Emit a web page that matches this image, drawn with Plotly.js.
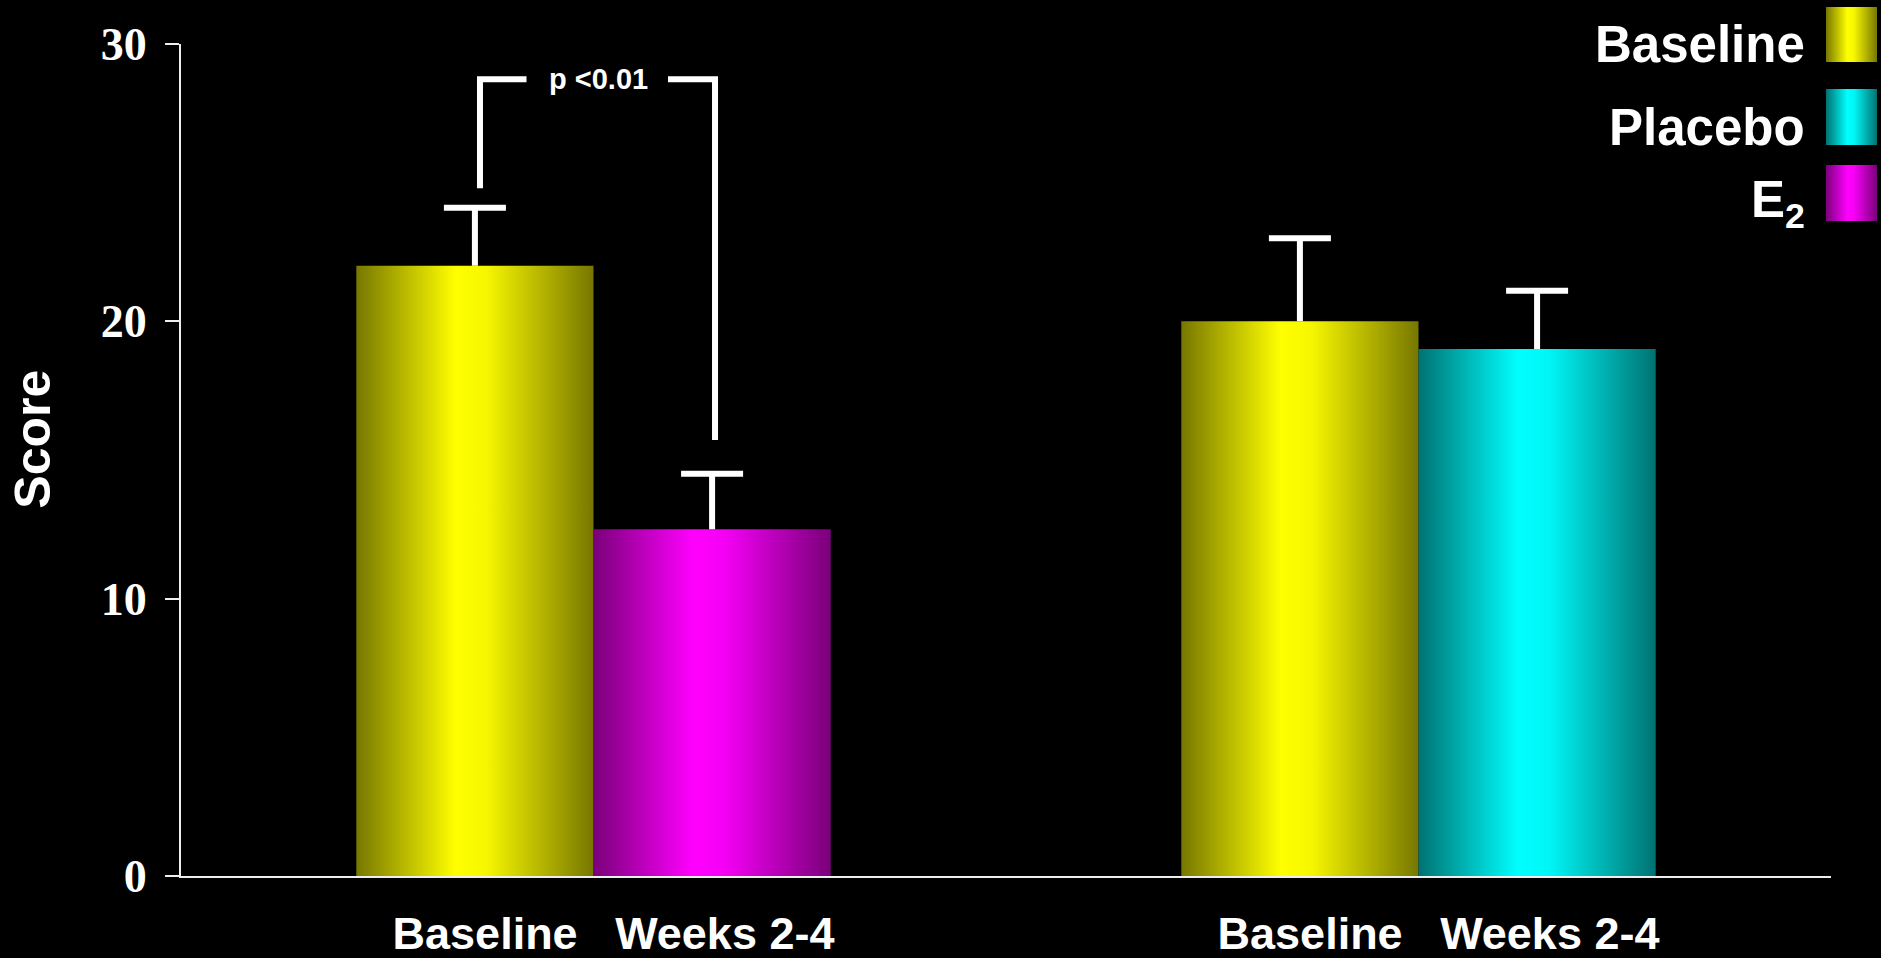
<!DOCTYPE html>
<html>
<head>
<meta charset="utf-8">
<script src="https://cdn.plot.ly/plotly-3.0.1.min.js"></script>
<style>
  html, body { margin: 0; padding: 0; background: #000; }
  #chart { width: 1881px; height: 958px; }
</style>
</head>
<body>
<svg width="0" height="0" style="position:absolute">
  <defs>
    <linearGradient id="gYellow" x1="0" y1="0" x2="1" y2="0">
      <stop offset="0" stop-color="#777700"/>
      <stop offset="0.42" stop-color="#ffff00"/>
      <stop offset="0.55" stop-color="#f6f600"/>
      <stop offset="1" stop-color="#777700"/>
    </linearGradient>
    <linearGradient id="gCyan" x1="0" y1="0" x2="1" y2="0">
      <stop offset="0" stop-color="#007272"/>
      <stop offset="0.42" stop-color="#00ffff"/>
      <stop offset="0.55" stop-color="#00f6f6"/>
      <stop offset="1" stop-color="#007272"/>
    </linearGradient>
    <linearGradient id="gMagenta" x1="0" y1="0" x2="1" y2="0">
      <stop offset="0" stop-color="#7a007a"/>
      <stop offset="0.42" stop-color="#ff00ff"/>
      <stop offset="0.55" stop-color="#f600f6"/>
      <stop offset="1" stop-color="#7a007a"/>
    </linearGradient>
  </defs>
</svg>
<div id="chart"></div>
<script>
// ---- data ----
const groupPositions = [0, 1];
const groupTickLabels = ['Baseline\u00a0\u00a0\u00a0Weeks 2-4', 'Baseline\u00a0\u00a0\u00a0Weeks 2-4'];
const baselineValues = [22, 20];
const baselineErrors = [2.1, 3.0];
const e2Positions = [0];
const e2Values = [12.5];
const e2Errors = [2.0];
const placeboPositions = [1];
const placeboValues = [19];
const placeboErrors = [2.1];
const yTickValues = [0, 10, 20, 30];
const yTickLabels = ['0', '10', '20', '30'];
const legendNames = ['Baseline', 'Placebo', 'E<sub>2</sub>'];
const pValueLabel = 'p <0.01';
const yAxisTitle = 'Score';

// ---- styles ----
const sans = 'Liberation Sans, Arial, sans-serif';
const serif = 'Liberation Serif, Times New Roman, serif';
const errStyle = (arr) => ({
  type: 'data', symmetric: false, array: arr, arrayminus: arr.map(() => 0),
  color: '#ffffff', thickness: 6, width: 31, visible: true
});

const traces = [
  { type: 'bar', name: 'Baseline', x: groupPositions, y: baselineValues,
    offsetgroup: 'a', marker: { color: '#ffff00', line: { width: 0 } },
    error_y: errStyle(baselineErrors), showlegend: false, hoverinfo: 'y' },
  { type: 'bar', name: 'E2', x: e2Positions, y: e2Values,
    offsetgroup: 'b', marker: { color: '#ff00ff', line: { width: 0 } },
    error_y: errStyle(e2Errors), showlegend: false, hoverinfo: 'y' },
  { type: 'bar', name: 'Placebo', x: placeboPositions, y: placeboValues,
    offsetgroup: 'b', marker: { color: '#00ffff', line: { width: 0 } },
    error_y: errStyle(placeboErrors), showlegend: false, hoverinfo: 'y' }
];

// custom legend (text on the left, swatch on the right)
const swatchColors = ['#ffff00', '#00ffff', '#ff00ff'];
const swatchY = [[0.97837, 1.04447], [0.87861, 0.94591], [0.78726, 0.85457]];
const legendTextY = [0.999, 0.900, 0.8085];

const shapes = [];
swatchY.forEach((yy, i) => {
  shapes.push({ type: 'rect', xref: 'paper', yref: 'paper',
    x0: 0.99697, x1: 1.02788, y0: yy[0], y1: yy[1],
    fillcolor: swatchColors[i], line: { width: 0 }, layer: 'above' });
});
// significance bracket
const bracketTop = 28.73;
shapes.push({ type: 'path', xref: 'x', yref: 'y', layer: 'above',
  path: `M -0.1376,24.8 L -0.1376,${bracketTop} L -0.0812,${bracketTop}`,
  line: { color: '#ffffff', width: 6 } });
shapes.push({ type: 'path', xref: 'x', yref: 'y', layer: 'above',
  path: `M 0.0903,${bracketTop} L 0.1473,${bracketTop} L 0.1473,15.72`,
  line: { color: '#ffffff', width: 6 } });

const annotations = [];
legendNames.forEach((n, i) => {
  annotations.push({ xref: 'paper', yref: 'paper', x: 0.9855, y: legendTextY[i],
    xanchor: 'right', yanchor: 'middle', text: n, showarrow: false,
    font: { family: sans, size: 51, color: '#ffffff', weight: 'bold' } });
});
annotations.push({ xref: 'x', yref: 'y', x: 0.006, y: bracketTop, text: pValueLabel,
  showarrow: false, xanchor: 'center', yanchor: 'middle',
  font: { family: sans, size: 29, color: '#ffffff', weight: 'bold' } });
annotations.push({ xref: 'paper', yref: 'paper', x: -0.0894, y: 0.525, text: yAxisTitle,
  textangle: -90, showarrow: false, xanchor: 'center', yanchor: 'middle',
  font: { family: sans, size: 50, color: '#ffffff', weight: 'bold' } });

const layout = {
  width: 1881, height: 958,
  paper_bgcolor: '#000000', plot_bgcolor: '#000000',
  margin: { l: 181, r: 50, t: 44, b: 82, autoexpand: false },
  barmode: 'group', bargap: 0.425, bargroupgap: 0,
  showlegend: false,
  xaxis: {
    range: [-0.5, 1.5], tickmode: 'array', tickvals: groupPositions, ticktext: groupTickLabels,
    showgrid: false, zeroline: false, showline: true, linecolor: '#eeeeee', linewidth: 2,
    ticks: '', ticklabelstandoff: 17, ticklabelshift: 20,
    tickfont: { family: sans, size: 45, color: '#ffffff', weight: 'bold' },
    fixedrange: true
  },
  yaxis: {
    range: [0, 30], tickmode: 'array', tickvals: yTickValues, ticktext: yTickLabels,
    showgrid: false, zeroline: false, showline: true, linecolor: '#eeeeee', linewidth: 2,
    ticks: 'outside', ticklen: 14, tickwidth: 2, tickcolor: '#eeeeee',
    ticklabelstandoff: 9,
    tickfont: { family: serif, size: 46, color: '#ffffff', weight: 'bold' },
    fixedrange: true
  },
  shapes: shapes,
  annotations: annotations
};

Plotly.newPlot('chart', traces, layout, { staticPlot: true, displayModeBar: false }).then(() => {
  const grads = ['url(#gYellow)', 'url(#gMagenta)', 'url(#gCyan)'];
  document.querySelectorAll('.barlayer .trace').forEach((t, i) => {
    t.querySelectorAll('.point path').forEach(p => { p.style.fill = grads[i]; });
  });
  // only the upper cap is drawn: drop the lower cap of each one-sided error bar
  document.querySelectorAll('.errorbar path.yerror').forEach(p => {
    const d = p.getAttribute('d');
    if (d) p.setAttribute('d', d.replace(/m-?[\d.]+,0h[\d.]+\s*$/, ''));
  });
  const swGrads = ['url(#gYellow)', 'url(#gCyan)', 'url(#gMagenta)'];
  document.querySelectorAll('.shapelayer path[data-index]').forEach(p => {
    const idx = +p.getAttribute('data-index');
    if (idx < 3) { p.style.fill = swGrads[idx]; p.style.fillOpacity = 1; }
  });
});
</script>
</body>
</html>
